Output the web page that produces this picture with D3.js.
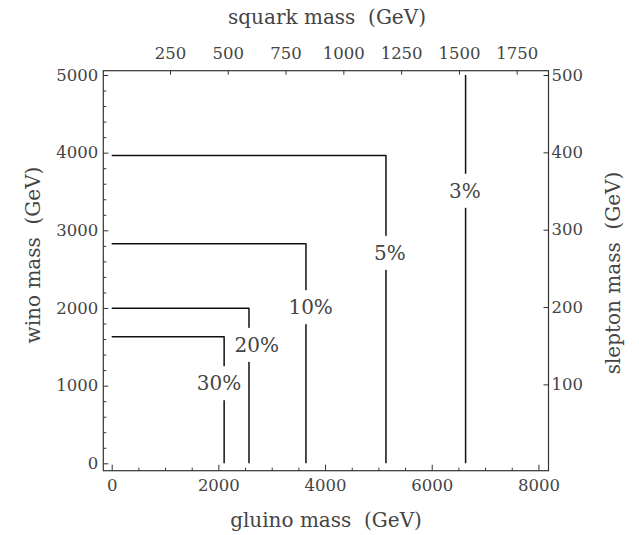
<!DOCTYPE html>
<html>
<head>
<meta charset="utf-8">
<script src="https://cdn.jsdelivr.net/npm/d3@7"></script>
<style>
  html, body { margin: 0; padding: 0; background: #fff; }
  svg text { font-family: "DejaVu Serif", "Liberation Serif", serif; white-space: pre; }
</style>
</head>
<body>
<svg id="chart" width="639" height="535"></svg>
<script>
// ---- data ----
const gluinoTicks = [0, 2000, 4000, 6000, 8000];
const gluinoMinor = [500, 1000, 1500, 2500, 3000, 3500, 4500, 5000, 5500, 6500, 7000, 7500];
const winoTicks = [0, 1000, 2000, 3000, 4000, 5000];
const winoMinor = [200, 400, 600, 800, 1200, 1400, 1600, 1800, 2200, 2400, 2600, 2800,
                   3200, 3400, 3600, 3800, 4200, 4400, 4600, 4800];
const squarkTicks = [250, 500, 750, 1000, 1250, 1500, 1750];
const sleptonTicks = [100, 200, 300, 400, 500];

const contourLabels = ["30%", "20%", "10%", "5%", "3%"];
const contourGluino = [2108, 2574, 3642, 5142, 6635];   // vertical edge (gluino mass)
const contourWino   = [1631, 1997, 2826, 3964, null];   // horizontal edge (wino mass)
const contourTop    = [null, null, null, null, 5000];   // upper end of pure vertical contour
const labelGluino   = [2011, 2718, 3730, 5217, 6622];
const labelWino     = [1031, 1525, 2010, 2710, 3509];

// ---- scales ----
const svg = d3.select("#chart");
const x = d3.scaleLinear().domain([0, 8000]).range([111.7, 538.4]);
const y = d3.scaleLinear().domain([0, 5000]).range([463.3, 75]);
const xs = d3.scaleLinear().domain([0, 1750]).range([112.2, 516.7]);
const ys = d3.scaleLinear().domain([0, 500]).range([461.7, 75]);

const frameX0 = 103.3, frameX1 = 548.5, frameY0 = 70.7, frameY1 = 470.7;
const textColor = "#444";
const axisColor = "#333";

// ---- contours ----
const line = d3.line().x(d => x(d[0])).y(d => y(d[1]));
const g = svg.append("g");
contourGluino.forEach((gv, i) => {
  let pts;
  if (contourWino[i] !== null) pts = [[0, contourWino[i]], [gv, contourWino[i]], [gv, 0]];
  else pts = [[gv, contourTop[i]], [gv, 0]];
  g.append("path").attr("d", line(pts)).attr("fill", "none")
    .attr("stroke", "#111").attr("stroke-width", 1.5).attr("stroke-linejoin", "round");
});
contourLabels.forEach((lab, i) => {
  const lg = g.append("g");
  const t = lg.append("text").attr("x", x(labelGluino[i])).attr("y", y(labelWino[i]))
    .attr("text-anchor", "middle").attr("dominant-baseline", "central")
    .attr("font-size", 20).attr("fill", textColor).text(lab);
  const bb = t.node().getBBox();
  lg.insert("rect", "text").attr("x", bb.x - 2).attr("y", bb.y - 5)
    .attr("width", bb.width + 4).attr("height", bb.height + 10).attr("fill", "#fff");
});

// ---- frame ----
svg.append("rect").attr("x", frameX0).attr("y", frameY0)
  .attr("width", frameX1 - frameX0).attr("height", frameY1 - frameY0)
  .attr("fill", "none").attr("stroke", axisColor).attr("stroke-width", 1.2);

function styleAxis(sel, fs) {
  sel.select(".domain").remove();
  sel.selectAll(".tick line").attr("stroke", axisColor).attr("stroke-width", 1);
  sel.selectAll(".tick text").attr("fill", textColor).attr("font-size", fs)
    .attr("font-family", "DejaVu Serif, serif");
}

// bottom (gluino)
svg.append("g").attr("transform", `translate(0,${frameY1})`)
  .call(d3.axisBottom(x).tickValues(gluinoTicks).tickSize(-6).tickPadding(9).tickFormat(d3.format("d")))
  .call(s => styleAxis(s, 16.5));
svg.append("g").attr("transform", `translate(0,${frameY1})`)
  .call(d3.axisBottom(x).tickValues(gluinoMinor).tickSize(-3).tickFormat(""))
  .call(s => styleAxis(s, 16.5));

// left (wino)
svg.append("g").attr("transform", `translate(${frameX0},0)`)
  .call(d3.axisLeft(y).tickValues(winoTicks).tickSize(-5).tickPadding(5).tickFormat(d3.format("d")))
  .call(s => styleAxis(s, 16.5));
svg.append("g").attr("transform", `translate(${frameX0},0)`)
  .call(d3.axisLeft(y).tickValues(winoMinor).tickSize(-3).tickFormat(""))
  .call(s => styleAxis(s, 16.5));

// top (squark)
svg.append("g").attr("transform", `translate(0,${frameY0})`)
  .call(d3.axisTop(xs).tickValues(squarkTicks).tickSize(-4).tickPadding(12).tickFormat(d3.format("d")))
  .call(s => styleAxis(s, 16.5));

// right (slepton)
svg.append("g").attr("transform", `translate(${frameX1},0)`)
  .call(d3.axisRight(ys).tickValues(sleptonTicks).tickSize(-5).tickPadding(3).tickFormat(d3.format("d")))
  .call(s => styleAxis(s, 16.5));

// ---- titles ----
svg.append("text").attr("x", 327).attr("y", 24).attr("text-anchor", "middle")
  .attr("font-size", 20).attr("fill", textColor).text("squark mass  (GeV)");
svg.append("text").attr("x", 326).attr("y", 527).attr("text-anchor", "middle")
  .attr("font-size", 20).attr("fill", textColor).text("gluino mass  (GeV)");
svg.append("text").attr("transform", "translate(40,255) rotate(-90)").attr("text-anchor", "middle")
  .attr("font-size", 20).attr("fill", textColor).text("wino mass  (GeV)");
svg.append("text").attr("transform", "translate(620,273) rotate(-90)").attr("text-anchor", "middle")
  .attr("font-size", 20).attr("fill", textColor).text("slepton mass  (GeV)");
</script>
</body>
</html>
